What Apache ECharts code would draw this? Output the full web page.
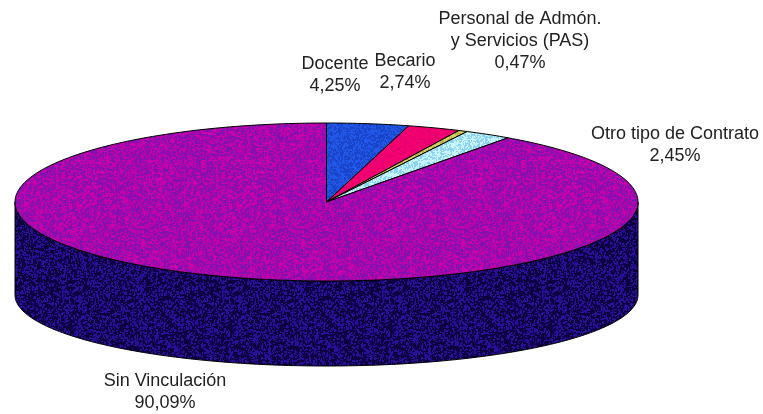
<!DOCTYPE html>
<html lang="es">

<head>
    <meta charset="UTF-8">
    <title>Vinculación</title>
    <style>
        html, body { margin: 0; background: #fff; }
        #main { width: 763px; height: 414px; }
        #main canvas { filter: blur(0.7px); }
    </style>
</head>

<body>
    <div id="main"></div>
    <script src="https://cdn.jsdelivr.net/npm/echarts@6/dist/echarts.min.js"></script>
    <script>
        var categories = ["Docente", "Becario", "Personal de Admón.\ny Servicios (PAS)", "Otro tipo de Contrato", "Sin Vinculación"];
        var values = [4.25, 2.74, 0.47, 2.45, 90.09];
        var valueLabels = ["4,25%", "2,74%", "0,47%", "2,45%", "90,09%"];

        // centre of each label block, same order as categories
        var labelPos = [[335, 75], [405, 72], [520, 41], [675, 145], [165, 392]];
        // base colour, speck colour, how many pixels get a speck
        var sliceFill = [
            ["#2258ea", "#1a44c8", 0.28],
            ["#f6006e", "#e40074", 0.2],
            ["#d8d468", "#b8b048", 0.2],
            ["#c8f4fb", "#8cd4f0", 0.3],
            ["#c800aa", "#8410b0", 0.3]
        ];
        var wallFill = ["#0c0040", "#2a0e98", 0.22];

        var cx = 326.5, cy = 202, rx = 311.5, ry = 79;
        // the lower rim is a bit flatter than the top face
        var baseY = 295, baseRy = 71;

        // fixed speckle tile, the scanned look of the original
        function speckle(fill, seed) {
            var c = document.createElement("canvas");
            c.width = c.height = 160;
            var ctx = c.getContext("2d");
            ctx.fillStyle = fill[0];
            ctx.fillRect(0, 0, 160, 160);
            ctx.fillStyle = fill[1];
            var s = seed;
            for (var y = 0; y < 160; y++) {
                for (var x = 0; x < 160; x++) {
                    s = (s * 1103515245 + 12345) % 2147483648;
                    if (s / 2147483648 < fill[2]) ctx.fillRect(x, y, 1 + (s >> 8) % 2, 1 + (s >> 12) % 2);
                }
            }
            return { image: c, repeat: "repeat" };
        }
        var patterns = sliceFill.map(function (f, i) { return speckle(f, 17 + i * 31); });
        var wallPattern = speckle(wallFill, 977);

        function arc(from, to, y0, r) {
            var pts = [];
            var n = Math.max(2, Math.ceil(Math.abs(to - from)));
            for (var i = 0; i <= n; i++) {
                var a = (from + (to - from) * i / n) * Math.PI / 180;
                pts.push([cx + rx * Math.sin(a), y0 - r * Math.cos(a)]);
            }
            return pts;
        }

        var total = values.reduce(function (a, b) { return a + b; }, 0);
        var rows = values.map(function (v, i) { return [i, v]; });

        function renderSlice(params, api) {
            var i = api.value(0);
            var before = 0;
            for (var k = 0; k < i; k++) before += values[k];
            var from = before / total * 360;
            var to = (before + api.value(1)) / total * 360;
            var kids = [];
            // only the front half of the cake shows a wall
            var wa = Math.max(from, 90), wb = Math.min(to, 270);
            if (wb > wa) {
                kids.push({
                    type: "polygon",
                    shape: { points: arc(wa, wb, cy, ry).concat(arc(wb, wa, baseY, baseRy)) },
                    style: { fill: wallPattern, stroke: "#000", lineWidth: 1 }
                });
            }
            kids.push({
                type: "polygon",
                shape: { points: [[cx, cy]].concat(arc(from, to, cy, ry)) },
                style: { fill: patterns[i], stroke: "#000", lineWidth: 1 }
            });
            kids.push({
                type: "text",
                z2: 5,
                style: {
                    x: labelPos[i][0],
                    y: labelPos[i][1],
                    text: categories[i] + "\n" + valueLabels[i],
                    fill: "#222",
                    font: "18px 'Liberation Sans'",
                    lineHeight: 22,
                    align: "center",
                    verticalAlign: "middle"
                }
            });
            return { type: "group", children: kids };
        }

        var myChart = echarts.init(document.getElementById("main"));
        myChart.setOption({
            animation: false,
            backgroundColor: "#fff",
            series: [{
                type: "custom",
                coordinateSystem: "none",
                renderItem: renderSlice,
                data: rows
            }]
        });
    </script>
</body>

</html>
